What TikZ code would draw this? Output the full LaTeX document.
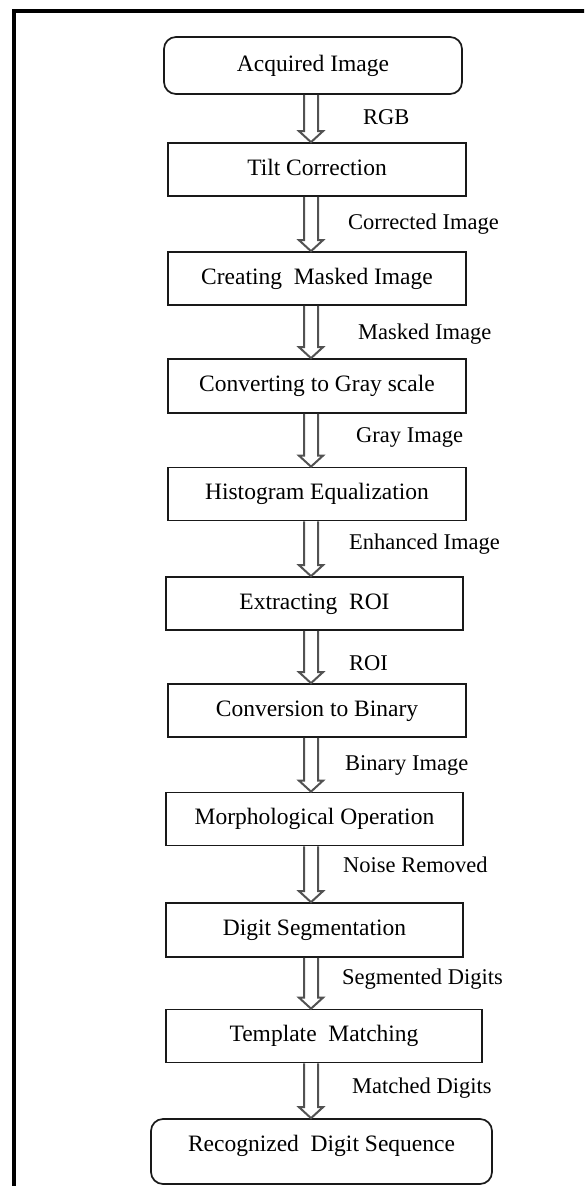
\documentclass[tikz,border=0pt]{standalone}
\usepackage{fontspec}
\setmainfont{Liberation Serif}
\usetikzlibrary{calc}

\tikzset{
  stage/.style={draw=black!90, line width=1.7pt, rectangle, inner sep=0pt,
    minimum height=53pt, text height=16pt, text depth=5pt,
    font=\fontsize{23.5}{28}\selectfont},
  endstage/.style={stage, rounded corners=12pt},
  hollow/.style={draw=black!68, line width=2pt, line join=miter},
  flowlabel/.style={anchor=base west, inner sep=0pt,
    font=\fontsize{22.5}{26}\selectfont},
  frameline/.style={line width=4pt, draw=black}
}

% hollow block arrow between two stages, running on the arrow axis
\newcommand\hollowarrow[2]{%
  \coordinate (ha-top) at (#1.south -| axis);
  \coordinate (ha-tip) at (#2.north -| axis);
  \draw[hollow] ($(ha-top)+(-7,0)$) -- ($(ha-tip)+(-7,-11)$) -- ($(ha-tip)+(-12,-11)$)
    -- (ha-tip) -- ($(ha-tip)+(12,-11)$) -- ($(ha-tip)+(7,-11)$) -- ($(ha-top)+(7,0)$);
}

\begin{document}
\begin{tikzpicture}[x=1pt, y=-1pt]
  \useasboundingbox (0,0) rectangle (584,1186);
  \clip (0,0) rectangle (584,1186);

  % outer frame (runs off the right and bottom edges)
  \draw[frameline] (14,1200) -- (14,11) -- (600,11);

  \coordinate (axis) at (311,0);

  % processing stages
  \node[endstage, minimum width=298pt, minimum height=57pt] (acq) at (313,65.5) {Acquired Image};
  \node[stage, minimum width=298pt] (tilt) at (317,169.5) {Tilt Correction};
  \node[stage, minimum width=298pt] (mask) at (317,278.5) {Creating\ \ Masked Image};
  \node[stage, minimum width=298pt, minimum height=54pt] (gray) at (317,386) {Converting to Gray scale};
  \node[stage, minimum width=298pt] (hist) at (317,494) {Histogram Equalization};
  \node[stage, minimum width=297pt] (roi) at (314.5,603.5) {Extracting\ \ ROI};
  \node[stage, minimum width=298pt] (bin) at (317,710.5) {Conversion to Binary};
  \node[stage, minimum width=297pt] (morph) at (314.5,819) {Morphological Operation};
  \node[stage, minimum width=297pt, minimum height=54pt] (seg) at (314.5,930) {Digit Segmentation};
  \node[stage, minimum width=316pt] (tmpl) at (324,1036) {Template\ \ Matching};
  \node[endstage, minimum width=341pt, minimum height=65pt, text depth=17pt] (rec) at (321.5,1151.5) {Recognized\ \ Digit Sequence};

  % connectors
  \hollowarrow{acq}{tilt}
  \hollowarrow{tilt}{mask}
  \hollowarrow{mask}{gray}
  \hollowarrow{gray}{hist}
  \hollowarrow{hist}{roi}
  \hollowarrow{roi}{bin}
  \hollowarrow{bin}{morph}
  \hollowarrow{morph}{seg}
  \hollowarrow{seg}{tmpl}
  \hollowarrow{tmpl}{rec}

  % data passed between stages
  \node[flowlabel] (l1) at (363,124.5) {RGB};
  \node[flowlabel] (l2) at (348,229.5) {Corrected Image};
  \node[flowlabel] (l3) at (358,339.5) {Masked Image};
  \node[flowlabel] (l4) at (356,442.5) {Gray Image};
  \node[flowlabel] (l5) at (349,549.5) {Enhanced Image};
  \node[flowlabel] (l6) at (349,670.5) {ROI};
  \node[flowlabel] (l7) at (345,770.5) {Binary Image};
  \node[flowlabel] (l8) at (343,872.5) {Noise Removed};
  \node[flowlabel] (l9) at (342,984.5) {Segmented Digits};
  \node[flowlabel] (l10) at (352,1093.5) {Matched Digits};
\end{tikzpicture}
\end{document}
